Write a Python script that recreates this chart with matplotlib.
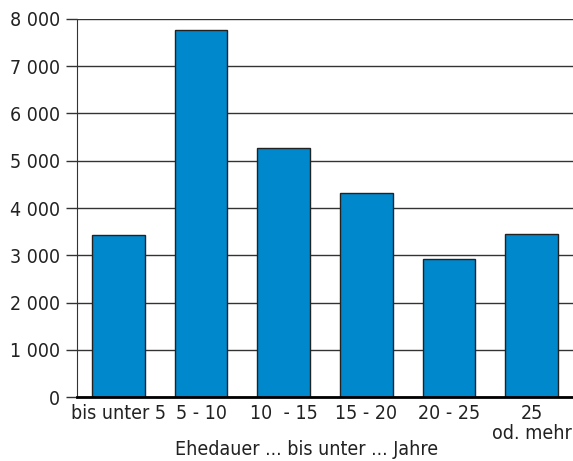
import matplotlib.pyplot as plt
import numpy as np

categories = ["bis unter 5", "5 - 10", "10  - 15", "15 - 20", "20 - 25", "25\nod. mehr"]
values = [3420, 7770, 5270, 4320, 2920, 3450]
yticks = [0, 1000, 2000, 3000, 4000, 5000, 6000, 7000, 8000]

plt.rcParams['font.family'] = ['DejaVu Sans']
plt.rcParams['font.stretch'] = 'condensed'

fig = plt.figure(figsize=(5.73, 4.61), dpi=100)
ax = fig.add_axes([77 / 573, 64 / 461, 496 / 573, 378 / 461])

x = np.arange(len(categories))
ax.bar(x, values, width=0.64, color='#0088cc', edgecolor='#222222', linewidth=1.0, zorder=3)

ax.set_xlim(-0.5, len(categories) - 0.5)
ax.set_ylim(0, 8000)
ax.set_yticks(yticks)
ax.set_yticklabels([f"{v:,}".replace(",", " ") for v in yticks])
ax.yaxis.grid(True, color='#333333', linewidth=1.0, zorder=0)
ax.set_xticks(x)
ax.set_xticklabels(categories, linespacing=1.1)

for s in ['top', 'right']:
    ax.spines[s].set_visible(False)
ax.spines['left'].set_color('#333333')
ax.spines['bottom'].set_linewidth(2.0)
ax.spines['bottom'].set_zorder(4)
ax.tick_params(axis='y', length=8, width=1.0, color='#333333', labelsize=14, labelcolor='#222222', pad=4)
ax.tick_params(axis='x', length=0, labelsize=14, labelcolor='#222222', pad=5)

fig.text(307 / 573, 2 / 461, "Ehedauer ... bis unter ... Jahre", ha='center', va='bottom', fontsize=14, color='#222222')

fig.savefig('out.png', dpi=100)
